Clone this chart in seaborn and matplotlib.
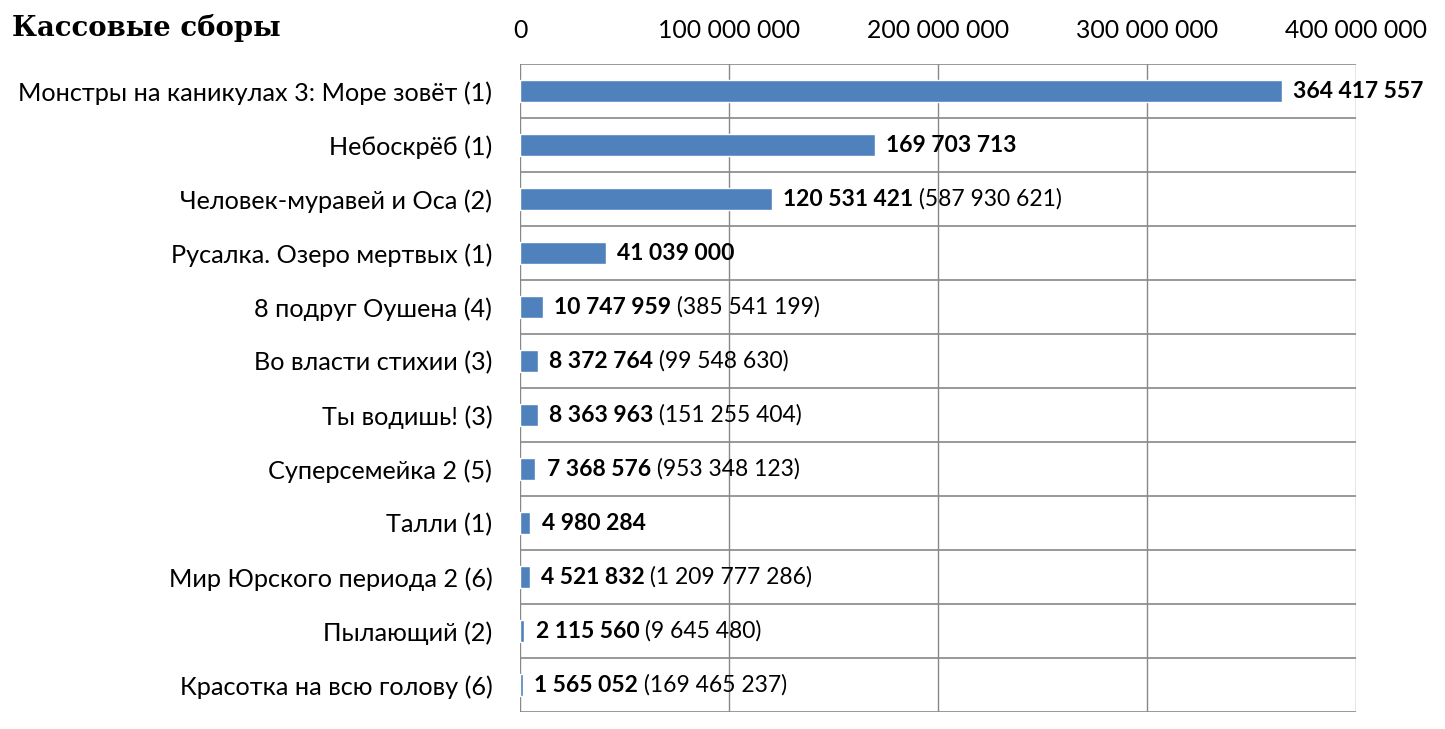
import matplotlib
matplotlib.use('Agg')
import matplotlib.pyplot as plt
import seaborn as sns
import numpy as np
import pandas as pd

films = [
    'Монстры на каникулах 3: Море зовёт (1)',
    'Небоскрёб (1)',
    'Человек-муравей и Оса (2)',
    'Русалка. Озеро мертвых (1)',
    '8 подруг Оушена (4)',
    'Во власти стихии (3)',
    'Ты водишь! (3)',
    'Суперсемейка 2 (5)',
    'Талли (1)',
    'Мир Юрского периода 2 (6)',
    'Пылающий (2)',
    'Красотка на всю голову (6)',
]
weekend = [364417557, 169703713, 120531421, 41039000, 10747959, 8372764,
           8363963, 7368576, 4980284, 4521832, 2115560, 1565052]
total = [None, None, 587930621, None, 385541199, 99548630,
         151255404, 953348123, None, 1209777286, 9645480, 169465237]
xticks = [0, 100000000, 200000000, 300000000, 400000000]


def fmt(v):
    return f'{v:,}'.replace(',', ' ')


sns.set_theme(style='white')
plt.rcParams['font.family'] = ['Lato', 'DejaVu Sans']
plt.rcParams['text.color'] = 'black'
plt.rcParams['xtick.color'] = 'black'
plt.rcParams['ytick.color'] = 'black'

df = pd.DataFrame({'film': films, 'weekend': weekend})

fig = plt.figure(figsize=(14.45, 7.29), dpi=100)
ax = fig.add_axes([0.3599, 0.0233, 0.5785, 0.8889])

sns.barplot(data=df, x='weekend', y='film', orient='h', color='#4F81BD',
            saturation=1, width=0.41, ax=ax)

ax.set_xlim(0, 400000000)
ax.set_ylim(len(films) - 0.5, -0.5)
ax.set_xlabel('')
ax.set_ylabel('')

ax.xaxis.tick_top()
ax.set_xticks(xticks)
ax.set_xticklabels([fmt(t) for t in xticks], fontsize=17.8)
ax.tick_params(axis='x', length=0, pad=16)

ax.set_yticks(range(len(films)))
ax.set_yticklabels(films, fontsize=18.2)
ax.tick_params(axis='y', which='major', length=0, pad=20)
ax.set_yticks(np.arange(-0.5, len(films)), minor=True)
ax.tick_params(axis='y', which='minor', length=7, color='#888888', width=1.2)

for s in ax.spines.values():
    s.set_visible(False)
ax.grid(axis='x', which='major', color='#888888', linewidth=1)
ax.grid(axis='y', which='minor', color='#888888', linewidth=1.2)
ax.set_axisbelow(True)

for i, (w, t) in enumerate(zip(weekend, total)):
    t1 = ax.annotate(fmt(w), xy=(w, i), xytext=(8, 0), textcoords='offset points',
                     ha='left', va='center', fontsize=16.5, fontweight='bold')
    if t is not None:
        ax.annotate(' (' + fmt(t) + ')', xy=(1, 0.5), xycoords=t1,
                    ha='left', va='center', fontsize=16.5)

fig.text(0.008, 0.962, 'Кассовые сборы', fontsize=19.8, fontweight='bold',
         family='DejaVu Serif', ha='left', va='center')

fig.savefig('out.png', dpi=100)
